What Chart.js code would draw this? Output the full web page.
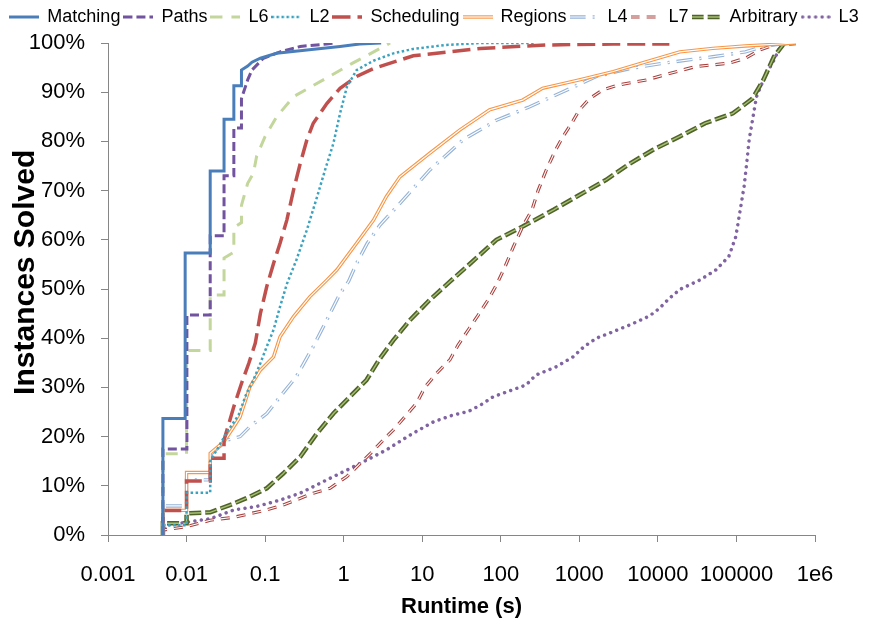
<!DOCTYPE html>
<html>
<head>
<meta charset="utf-8">
<script src="https://cdn.jsdelivr.net/npm/chart.js@4.4.1/dist/chart.umd.min.js"></script>
<style>
  html, body { margin: 0; padding: 0; background: #fff; }
  #wrap { width: 869px; height: 624px; }
</style>
</head>
<body>
<div id="wrap"><canvas id="canvas-runtime"></canvas></div>
<script>
// series names (legend order)
var seriesNames = ['Matching', 'Paths', 'L6', 'L2', 'Scheduling', 'Regions', 'L4', 'L7', 'Arbitrary', 'L3'];

// x axis ticks (runtime in seconds)
var tickValues = [0.001, 0.01, 0.1, 1, 10, 100, 1000, 10000, 100000, 1000000];
var tickLabels = ['0.001', '0.01', '0.1', '1', '10', '100', '1000', '10000', '100000', '1e6'];

// runtime (s) and % of instances solved
var matchingX = [0.005, 0.005, 0.0096, 0.0096, 0.02, 0.02, 0.03, 0.03, 0.04, 0.04, 0.05, 0.05, 0.06, 0.068, 0.087, 0.14, 0.34, 0.9, 1.6, 3];
var matchingY = [0, 23.7, 23.7, 57.3, 57.3, 74, 74, 84.5, 84.5, 91.3, 91.3, 94.5, 95.3, 96.1, 96.9, 97.9, 98.6, 99.3, 99.8, 100];

var pathsX = [0.005, 0.005, 0.0101, 0.0101, 0.02, 0.02, 0.03, 0.03, 0.04, 0.04, 0.05, 0.05, 0.06, 0.068, 0.095, 0.155, 0.28, 0.61, 0.8];
var pathsY = [0, 17.5, 17.5, 44.7, 44.7, 60.8, 60.8, 73, 73, 82.7, 82.7, 88.7, 92.5, 94.5, 96.9, 98.2, 99.3, 99.8, 100];

var l6X = [0.005, 0.005, 0.01, 0.01, 0.02, 0.02, 0.03, 0.03, 0.04, 0.04, 0.05, 0.05, 0.06, 0.071, 0.078, 0.1, 0.14, 0.23, 0.55, 1.3, 3.9];
var l6Y = [0, 16.5, 16.5, 37.5, 37.5, 48.8, 48.8, 56.3, 57.5, 62.5, 63.5, 67, 71.5, 73.5, 77, 81, 85, 89.1, 92.5, 95.9, 100];

var l2X = [0.005, 0.005, 0.01, 0.01, 0.02, 0.02, 0.033, 0.046, 0.058, 0.071, 0.087, 0.105, 0.128, 0.155, 0.189, 0.25, 0.34, 0.46, 0.58, 0.74, 0.9, 1.1, 1.46, 2.4, 4.3, 7.7, 20, 55, 275];
var l2Y = [0, 2, 2, 8.6, 8.6, 15, 21, 24.4, 28.8, 31.5, 34.9, 38.3, 41.7, 46.4, 51, 55.9, 62, 68.8, 74.2, 79.6, 85.7, 91.1, 94.5, 96.4, 97.9, 98.8, 99.6, 100, 100];

var schedulingX = [0.005, 0.005, 0.01, 0.01, 0.02, 0.02, 0.03, 0.03, 0.04, 0.05, 0.062, 0.075, 0.087, 0.105, 0.128, 0.155, 0.189, 0.23, 0.28, 0.34, 0.41, 0.61, 0.9, 1.46, 2.4, 4.7, 7.7, 55, 380, 2700, 14000];
var schedulingY = [0, 5, 5, 11, 11, 15.6, 15.6, 19.3, 26.1, 30.8, 34.9, 39, 45, 50.5, 55.2, 59.3, 64, 70.1, 75.5, 80.3, 83.7, 87.7, 90.8, 93.2, 94.8, 96.3, 97.4, 98.9, 99.6, 99.8, 99.8];

var regionsX = [0.005, 0.005, 0.01, 0.01, 0.02, 0.02, 0.03, 0.04, 0.048, 0.064, 0.087, 0.128, 0.155, 0.23, 0.37, 0.61, 0.82, 1.46, 2.4, 3.5, 5.2, 12.5, 30, 72, 190, 340, 1000, 2700, 7200, 19000, 50000, 130000, 360000, 570000];
var regionsY = [0, 5, 5, 12.7, 12.7, 16.6, 19, 22, 24, 30.1, 33.5, 36.2, 40.3, 44.4, 48.4, 51.8, 53.9, 59.3, 64, 68.8, 72.8, 77.6, 82.3, 86.4, 88.4, 90.8, 92.5, 94.2, 96.2, 98.2, 98.9, 99.4, 99.8, 100];

var l4X = [0.005, 0.005, 0.01, 0.01, 0.02, 0.02, 0.033, 0.048, 0.064, 0.105, 0.155, 0.25, 0.41, 0.61, 0.9, 1.15, 1.46, 2.0, 2.9, 5.2, 12.5, 33, 88, 230, 620, 1650, 4400, 11800, 50000, 130000, 220000, 360000, 570000];
var l4Y = [0, 5.9, 5.9, 11.2, 11.2, 16.3, 19.3, 20, 22, 24.7, 28.1, 32.2, 38.3, 43.7, 49.1, 51.5, 55.2, 59.3, 63, 67.4, 74.2, 80.3, 84.3, 87, 90.1, 93.2, 94.8, 95.9, 97.2, 98.2, 99.3, 99.8, 100];

var l7X = [0.005, 0.005, 0.01, 0.02, 0.04, 0.105, 0.17, 0.41, 0.67, 1.1, 2.2, 3.2, 4.5, 6.3, 8.5, 10.9, 15.3, 22.5, 28.6, 38.6, 51.6, 69, 88, 113, 145, 190, 250, 300, 380, 500, 620, 800, 1000, 1350, 2000, 3200, 7200, 14000, 30000, 80000, 130000, 200000, 330000, 500000];
var l7Y = [0, 1, 1.7, 3, 3.6, 5.1, 6.1, 8.5, 9.5, 11.9, 16.6, 19.3, 21.7, 24.4, 26.8, 30.1, 32.9, 35.6, 38.6, 41.7, 44.7, 47.8, 50.8, 54.5, 58.6, 62.7, 66.1, 70.1, 74.2, 78.3, 81, 83.7, 86.4, 88.7, 90.5, 91.5, 92.5, 93.8, 95.2, 95.9, 96.9, 98.6, 99.8, 100];

var arbitraryX = [0.005, 0.005, 0.01, 0.01, 0.02, 0.04, 0.064, 0.105, 0.17, 0.28, 0.46, 0.74, 1.2, 1.95, 2.9, 4.3, 7, 12.5, 22.5, 36.7, 88, 190, 470, 1000, 2200, 4400, 8700, 19000, 40000, 90000, 160000, 220000, 300000, 400000, 570000];
var arbitraryY = [0, 2.4, 2.4, 4.4, 4.6, 6.4, 7.8, 9.5, 12.5, 15.9, 20.7, 24.7, 28.1, 31.5, 35.9, 39.6, 43.7, 47.8, 51.5, 54.5, 60, 62.7, 66.1, 69.1, 72.2, 75.5, 78.3, 81, 83.7, 85.7, 88.7, 92.5, 97.2, 99.8, 100];

var l3X = [0.005, 0.0056, 0.01, 0.02, 0.04, 0.078, 0.155, 0.28, 0.61, 1.1, 1.95, 3.5, 4.7, 7.7, 13.9, 24.8, 38.6, 55, 80, 120, 210, 280, 510, 830, 1150, 1650, 2400, 4400, 7800, 10500, 14000, 19000, 34000, 55000, 80000, 98000, 110000, 125000, 135000, 145000, 160000, 180000, 230000, 300000, 370000, 420000];
var l3Y = [0, 2, 2.6, 3.3, 5.1, 5.8, 7.1, 8.5, 11.2, 13.2, 15.2, 17.3, 18.6, 20.7, 23, 24.4, 25.1, 26.4, 28.1, 29.1, 30.5, 32.5, 34.2, 36.2, 38.3, 40, 41, 42.7, 44.5, 46.1, 48.1, 49.9, 51.8, 53.9, 56.6, 60.6, 65.4, 70.8, 75.5, 80.3, 84.3, 89.1, 93.2, 96.5, 99.6, 100];

var seriesX = [matchingX, pathsX, l6X, l2X, schedulingX, regionsX, l4X, l7X, arbitraryX, l3X];
var seriesY = [matchingY, pathsY, l6Y, l2Y, schedulingY, regionsY, l4Y, l7Y, arbitraryY, l3Y];

// line look of every series (inner = second stroke for the double lines)
var lineStyles = [
    { color: '#4A7EBB', width: 3, dash: [] },
    { color: '#7153A0', width: 3, dash: [9, 4] },
    { color: '#C3D69B', width: 3, dash: [12, 9] },
    { color: '#3BA3BF', width: 2.5, dash: [2.5, 2.5] },
    { color: '#C0504D', width: 3.5, dash: [18, 7] },
    { color: '#F79646', width: 3.4, dash: [], inner: '#ffffff', innerWidth: 1.2 },
    { color: '#95B3D7', width: 3.4, dash: [16, 7, 2, 7], inner: '#ffffff', innerWidth: 1.2 },
    { color: '#A9403D', width: 3.2, dash: [9, 7], inner: '#ffffff', innerWidth: 1.1 },
    { color: '#4F6228', width: 4.5, dash: [12, 4], inner: '#A5BF74', innerWidth: 1.4 },
    { color: '#8064A2', width: 3.5, dash: [0.001, 6.5], cap: 'round' }
];

var fontFamily = "'Liberation Sans', Arial, sans-serif";

// small picture of a line, used as legend symbol
function makeSample(st) {
    var c = document.createElement('canvas');
    c.width = 30;
    c.height = 12;
    var g = c.getContext('2d');
    function stroke(color, width) {
        g.beginPath();
        g.setLineDash(st.dash);
        g.lineCap = st.cap || 'butt';
        g.strokeStyle = color;
        g.lineWidth = width;
        g.moveTo(st.cap ? 2 : 0, 6);
        g.lineTo(30, 6);
        g.stroke();
    }
    stroke(st.color, st.width);
    if (st.inner) stroke(st.inner, st.innerWidth);
    return c;
}

function toPoints(xs, ys) {
    var pts = [];
    for (var i = 0; i < xs.length; i++) {
        pts.push({ x: xs[i], y: ys[i] });
    }
    return pts;
}

// build datasets; the inner stroke of a double line goes right before its base
// so that it is painted on top of it
var datasets = [];
for (var i = 0; i < seriesNames.length; i++) {
    var st = lineStyles[i];
    var pts = toPoints(seriesX[i], seriesY[i]);
    if (st.inner) {
        datasets.push({
            label: seriesNames[i] + ' inner',
            overlay: true,
            data: pts,
            borderColor: st.inner,
            borderWidth: st.innerWidth,
            borderDash: st.dash,
            pointRadius: 0,
            fill: false
        });
    }
    datasets.push({
        label: seriesNames[i],
        data: pts,
        borderColor: st.color,
        backgroundColor: st.color,
        borderWidth: st.width,
        borderDash: st.dash,
        borderCapStyle: st.cap || 'butt',
        pointRadius: 0,
        pointStyle: makeSample(st),
        fill: false
    });
}

// legend is a bit taller in the original, leave a gap under it
var legendGap = {
    id: 'legendGap',
    beforeInit: function(chart) {
        var origFit = chart.legend.fit;
        chart.legend.fit = function() {
            origFit.bind(chart.legend)();
            this.height += 7;
        };
    }
};

Chart.defaults.color = '#000';
Chart.defaults.font.family = fontFamily;

var ctx = document.getElementById('canvas-runtime').getContext('2d');
var runtimeChart = new Chart(ctx, {
    type: 'line',
    data: { datasets: datasets },
    plugins: [legendGap],
    options: {
        responsive: true,
        maintainAspectRatio: false,
        animation: false,
        layout: { padding: { top: 4, right: 0, bottom: 0, left: 0 } },
        plugins: {
            legend: {
                position: 'top',
                labels: {
                    usePointStyle: true,
                    pointStyleWidth: 28,
                    boxWidth: 28,
                    boxHeight: 12,
                    padding: 4,
                    color: '#000',
                    font: { size: 18 },
                    filter: function(item, data) {
                        return !data.datasets[item.datasetIndex].overlay;
                    }
                }
            },
            tooltip: { enabled: false }
        },
        scales: {
            x: {
                type: 'logarithmic',
                min: 0.001,
                max: 1000000,
                afterBuildTicks: function(scale) {
                    scale.ticks = tickValues.map(function(v) { return { value: v }; });
                },
                afterFit: function(scale) {
                    scale.height = 89;
                },
                ticks: {
                    autoSkip: false,
                    maxRotation: 0,
                    padding: 20,
                    color: '#000',
                    font: { size: 22 },
                    callback: function(value, index) {
                        return tickLabels[index];
                    }
                },
                grid: { drawOnChartArea: false, color: '#868686', tickLength: 7 },
                border: { color: '#868686' },
                title: {
                    display: true,
                    text: 'Runtime (s)',
                    color: '#000',
                    font: { size: 22, weight: 'bold' },
                    padding: { top: 0, bottom: 4 }
                }
            },
            y: {
                min: 0,
                max: 100,
                afterFit: function(scale) {
                    scale.width = 108;
                },
                ticks: {
                    stepSize: 10,
                    padding: 16,
                    color: '#000',
                    font: { size: 22 },
                    callback: function(value) {
                        return value + '%';
                    }
                },
                grid: { drawOnChartArea: false, color: '#868686', tickLength: 7 },
                border: { color: '#868686' },
                title: {
                    display: true,
                    // leading spaces lift the title a little, as in the original
                    text: '    Instances Solved',
                    color: '#000',
                    font: { size: 30, weight: 'bold' },
                    padding: { top: 8, bottom: 0 }
                }
            },
            // empty right axis, only keeps the white margin right of the plot
            spacer: {
                position: 'right',
                min: 0,
                max: 100,
                afterFit: function(scale) {
                    scale.width = 54;
                },
                ticks: { display: false },
                grid: { display: false },
                border: { display: false }
            }
        }
    }
});
</script>
</body>
</html>
